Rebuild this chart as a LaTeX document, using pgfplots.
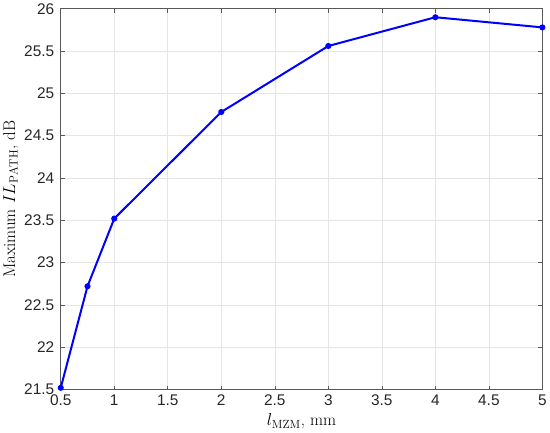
\documentclass[border=0pt]{standalone}
\usepackage{fontspec}
\newfontfamily\ticksans{Liberation Sans}
\usepackage{pgfplots}
\pgfplotsset{compat=1.18}
\begin{document}
\begin{tikzpicture}[x=1bp,y=1bp]
\begin{axis}[
    scale only axis,
    width=482bp, height=381bp,
    xmin=0.5, xmax=5, ymin=21.5, ymax=26,
    xtick={0.5,1,...,5}, ytick={21.5,22,...,26},
    tick align=inside,
    major tick length=4bp,
    grid=major,
    major grid style={gray!20, line width=0.6bp},
    axis line style={gray!70!black, line width=0.6bp},
    tick style={gray!70!black, line width=0.6bp},
    /pgf/number format/assume math mode=true,
    ticklabel style={font=\ticksans\fontsize{15.5}{18}\selectfont, text=black!85},
    xticklabel style={yshift=-2bp},
    yticklabel style={xshift=-3bp},
    xlabel={$l_{\mathrm{MZM}}$, mm},
    ylabel={Maximum $IL_{\mathrm{PATH}}$, dB},
    label style={font=\fontsize{17}{19}\selectfont},
    xlabel style={yshift=-1bp},
    ylabel style={yshift=-1bp},
]
\addplot[blue, line width=2bp, mark=*, mark size=2bp] coordinates {
    (0.5,21.52) (0.75,22.72) (1,23.52) (2,24.78) (3,25.56) (4,25.90) (5,25.78)
};
\end{axis}
\end{tikzpicture}
\end{document}
